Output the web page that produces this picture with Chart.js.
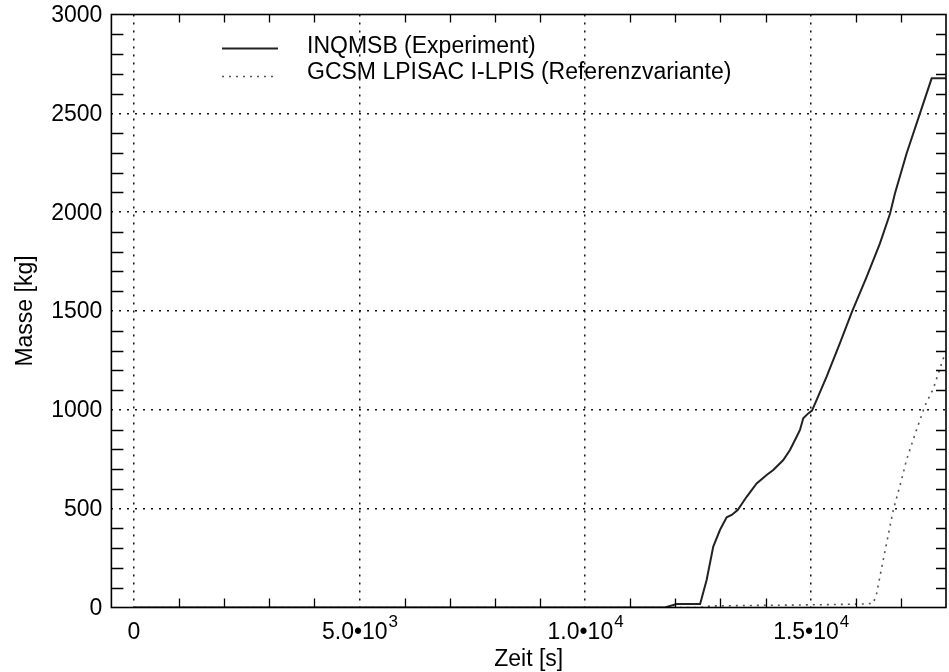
<!DOCTYPE html>
<html lang="de">
<head>
    <meta charset="UTF-8">
    <title>Masse über Zeit</title>
    <script src="https://cdn.jsdelivr.net/npm/chart.js"></script>
    <style>
        body {
            margin: 0;
            background-color: #ffffff;
        }
        #wrap {
            position: relative;
            width: 949px;
            height: 672px;
        }
    </style>
</head>
<body>
    <div id="wrap">
        <canvas id="chart"></canvas>
    </div>

    <script>
        // Experiment curve (INQMSB), time in s, mass in kg
        const expTime = [0, 11770, 12030, 12550, 12694, 12841, 12989, 13138, 13249, 13382, 13581, 13803, 14024, 14171,
            14393, 14541, 14689, 14763, 14836, 14947, 15029, 15133, 15354, 15649, 15915, 16241, 16536, 16757,
            16868, 17128, 17423, 17682, 18000];
        const expMass = [0, 0, 18, 18, 139, 308, 392, 456, 468, 493, 560, 628, 670, 696,
            746, 797, 864, 898, 957, 982, 996, 1050, 1168, 1337, 1495, 1673, 1842, 1991,
            2095, 2298, 2500, 2677, 2677];

        // Reference calculation (GCSM LPISAC I-LPIS)
        const refTime = [0, 12550, 12800, 13500, 14500, 15500, 16200, 16388, 16463, 16536, 16684, 16831, 17017,
            17128, 17312, 17533, 17717, 17939, 18000];
        const refMass = [0, 0, 8, 10, 12, 15, 18, 21, 72, 157, 326, 493, 648,
            749, 876, 1021, 1106, 1259, 1290];

        const seriesLabels = ['INQMSB (Experiment)', 'GCSM LPISAC I-LPIS (Referenzvariante)'];

        // axis ticks
        const xTickValues = [0, 5000, 10000, 15000];
        const xTickMantissa = ['0', '5.0\u202210', '1.0\u202210', '1.5\u202210'];
        const xTickExponent = ['', '3', '4', '4'];
        const yTickValues = [0, 500, 1000, 1500, 2000, 2500, 3000];
        const yTickLabels = ['0', '500', '1000', '1500', '2000', '2500', '3000'];

        const xTitle = 'Zeit [s]';
        const yTitle = 'Masse [kg]';

        const FONT = '"Liberation Sans", Arial, Helvetica, sans-serif';

        function toPoints(xs, ys) {
            return xs.map((x, i) => ({ x: x, y: ys[i] }));
        }

        // frame, inward tick marks, tick labels, titles and legend
        const framePlugin = {
            id: 'frame',
            afterDraw(chart) {
                const ctx = chart.ctx;
                const area = chart.chartArea;
                const xs = chart.scales.x;
                const ys = chart.scales.y;

                ctx.save();
                ctx.strokeStyle = '#000';
                ctx.lineWidth = 1.6;
                ctx.setLineDash([]);
                ctx.strokeRect(area.left, area.top, area.right - area.left, area.bottom - area.top);

                // minor ticks every 1000 s and 100 kg
                ctx.lineWidth = 1.3;
                ctx.beginPath();
                for (let v = 1000; v < xs.max; v += 1000) {
                    if (v % 5000 === 0) continue;
                    const px = Math.round(xs.getPixelForValue(v)) + 0.5;
                    ctx.moveTo(px, area.bottom);
                    ctx.lineTo(px, area.bottom - 9);
                    ctx.moveTo(px, area.top);
                    ctx.lineTo(px, area.top + 8);
                }
                for (let v = 100; v < ys.max; v += 100) {
                    if (v % 500 === 0) continue;
                    const py = Math.round(ys.getPixelForValue(v)) + 0.5;
                    ctx.moveTo(area.left, py);
                    ctx.lineTo(area.left + 12, py);
                    ctx.moveTo(area.right, py);
                    ctx.lineTo(area.right - 10, py);
                }
                ctx.stroke();

                // y tick labels
                ctx.fillStyle = '#000';
                ctx.font = '23px ' + FONT;
                ctx.textAlign = 'right';
                ctx.textBaseline = 'middle';
                yTickValues.forEach((v, i) => {
                    ctx.fillText(yTickLabels[i], area.left - 9, ys.getPixelForValue(v) + 1);
                });

                // x tick labels with superscript exponent
                ctx.textAlign = 'left';
                ctx.textBaseline = 'alphabetic';
                xTickValues.forEach((v, i) => {
                    ctx.font = '23px ' + FONT;
                    const mw = ctx.measureText(xTickMantissa[i]).width;
                    ctx.font = '17px ' + FONT;
                    const ew = xTickExponent[i] ? ctx.measureText(xTickExponent[i]).width : 0;
                    const start = xs.getPixelForValue(v) - (mw + ew) / 2;
                    ctx.font = '23px ' + FONT;
                    ctx.fillText(xTickMantissa[i], start, 639);
                    if (ew) {
                        ctx.font = '17px ' + FONT;
                        ctx.fillText(xTickExponent[i], start + mw + 1, 627);
                    }
                });

                // axis titles
                ctx.font = '23px ' + FONT;
                ctx.textAlign = 'center';
                ctx.fillText(xTitle, (area.left + area.right) / 2, 666);
                ctx.save();
                ctx.translate(32, (area.top + area.bottom) / 2);
                ctx.rotate(-Math.PI / 2);
                ctx.fillText(yTitle, 0, 0);
                ctx.restore();

                // legend
                const rows = [48.5, 76.5];
                const textY = [53, 79];
                chart.data.datasets.forEach((ds, i) => {
                    ctx.strokeStyle = ds.borderColor;
                    ctx.lineWidth = ds.borderWidth;
                    ctx.setLineDash(ds.borderDash || []);
                    ctx.beginPath();
                    ctx.moveTo(222, rows[i]);
                    ctx.lineTo(278, rows[i]);
                    ctx.stroke();
                    ctx.setLineDash([]);
                    ctx.fillStyle = '#000';
                    ctx.font = '23px ' + FONT;
                    ctx.textAlign = 'left';
                    ctx.fillText(ds.label, 307, textY[i]);
                });
                ctx.restore();
            }
        };

        const ctx = document.getElementById('chart').getContext('2d');
        const chart = new Chart(ctx, {
            type: 'line',
            data: {
                datasets: [
                    {
                        label: seriesLabels[0],
                        data: toPoints(expTime, expMass),
                        borderColor: '#222222',
                        borderWidth: 2,
                        pointRadius: 0,
                        tension: 0,
                        fill: false
                    },
                    {
                        label: seriesLabels[1],
                        data: toPoints(refTime, refMass),
                        borderColor: '#555555',
                        borderWidth: 1.6,
                        borderDash: [2, 5],
                        pointRadius: 0,
                        tension: 0,
                        fill: false
                    }
                ]
            },
            options: {
                responsive: true,
                maintainAspectRatio: false,
                animation: false,
                layout: {
                    padding: { top: 14.5, right: 3, left: 0, bottom: 0 }
                },
                plugins: {
                    legend: { display: false },
                    tooltip: { enabled: false }
                },
                scales: {
                    x: {
                        type: 'linear',
                        min: -500,
                        max: 18000,
                        afterBuildTicks: (scale) => {
                            scale.ticks = xTickValues.map(v => ({ value: v }));
                        },
                        afterFit: (scale) => { scale.height = 64.5; },
                        ticks: { display: false },
                        grid: { color: '#111', lineWidth: 1.5, drawTicks: false },
                        border: { display: false, dash: [2, 6] }
                    },
                    y: {
                        type: 'linear',
                        min: 0,
                        max: 3000,
                        afterBuildTicks: (scale) => {
                            scale.ticks = yTickValues.filter(v => v > 0 && v < 3000).map(v => ({ value: v }));
                        },
                        afterFit: (scale) => { scale.width = 111.4; },
                        ticks: { display: false },
                        grid: { color: '#111', lineWidth: 1.5, drawTicks: false },
                        border: { display: false, dash: [2, 6] }
                    }
                }
            },
            plugins: [framePlugin]
        });
    </script>
</body>
</html>
